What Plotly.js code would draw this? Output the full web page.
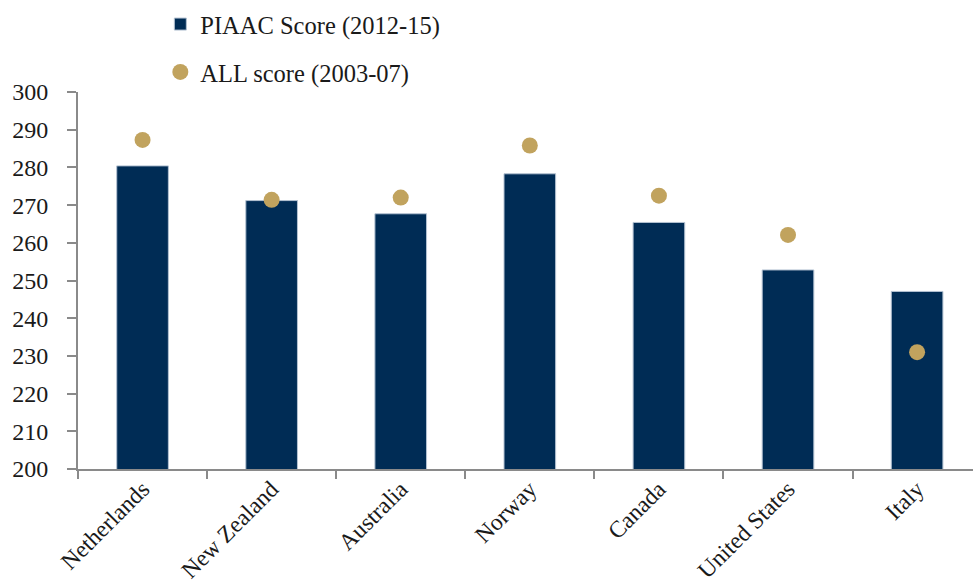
<!DOCTYPE html>
<html>
<head>
<meta charset="utf-8">
<script src="https://cdn.plot.ly/plotly-3.0.1.min.js"></script>
<style>
  html, body { margin: 0; padding: 0; background: #ffffff; }
  #chart { width: 973px; height: 585px; }
</style>
</head>
<body>
<div id="chart"></div>
<script>
// Countries on the x axis
const countries = ["Netherlands", "New Zealand", "Australia", "Norway", "Canada", "United States", "Italy"];
// PIAAC numeracy score, 2012-15 (bars)
const piaacScores = [280.4, 271.2, 267.7, 278.3, 265.4, 252.8, 247.1];
// ALL numeracy score, 2003-07 (dots)
const allScores = [287.3, 271.4, 272.0, 285.8, 272.5, 262.1, 231.0];
// Y axis tick values
const yTicks = [200, 210, 220, 230, 240, 250, 260, 270, 280, 290, 300];

const FONT = "Liberation Serif, Times New Roman, serif";
const AXIS_GREY = "#8a8a8a";

const traces = [
  {
    type: "bar",
    name: "PIAAC Score (2012-15)",
    x: countries,
    y: piaacScores,
    width: 0.4,
    marker: { color: "#002c55", line: { color: "#b4c2d2", width: 1 } },
    legend: "legend",
    hoverinfo: "x+y"
  },
  {
    type: "scatter",
    mode: "markers",
    name: "ALL score (2003-07)",
    x: countries,
    y: allScores,
    marker: { color: "#c1a35e", size: 16, line: { width: 0 } },
    legend: "legend2",
    hoverinfo: "x+y"
  }
];

const legendCommon = {
  orientation: "v",
  xanchor: "left",
  yanchor: "middle",
  x: 0.092,
  bgcolor: "rgba(0,0,0,0)",
  font: { family: FONT, size: 24.5, color: "#1a1a1a" }
};

const layout = {
  width: 973,
  height: 585,
  margin: { l: 78, r: 0, t: 92, b: 116, pad: 0 },
  paper_bgcolor: "#ffffff",
  plot_bgcolor: "#ffffff",
  font: { family: FONT, size: 24, color: "#1a1a1a" },
  showlegend: true,
  legend: Object.assign({}, legendCommon, { y: 1.18 }),
  legend2: Object.assign({}, legendCommon, { y: 1.053 }),
  xaxis: {
    type: "category",
    range: [-0.5, 6.433],
    showline: true,
    linecolor: AXIS_GREY,
    linewidth: 2,
    ticks: "outside",
    tickson: "boundaries",
    ticklen: 8,
    tickwidth: 2,
    tickcolor: AXIS_GREY,
    tickangle: -45,
    ticklabelstandoff: -5,
    showgrid: false,
    zeroline: false,
    tickfont: { family: FONT, size: 23.5, color: "#1a1a1a" }
  },
  yaxis: {
    range: [200, 300],
    tickvals: yTicks,
    ticktext: yTicks.map(String),
    showline: true,
    linecolor: AXIS_GREY,
    linewidth: 2,
    ticks: "outside",
    ticklen: 9,
    tickwidth: 2,
    tickcolor: AXIS_GREY,
    ticklabelstandoff: 14,
    showgrid: false,
    zeroline: false,
    tickfont: { family: FONT, size: 24, color: "#1a1a1a" }
  }
};

Plotly.newPlot("chart", traces, layout, { displayModeBar: false, staticPlot: true });
</script>
</body>
</html>
